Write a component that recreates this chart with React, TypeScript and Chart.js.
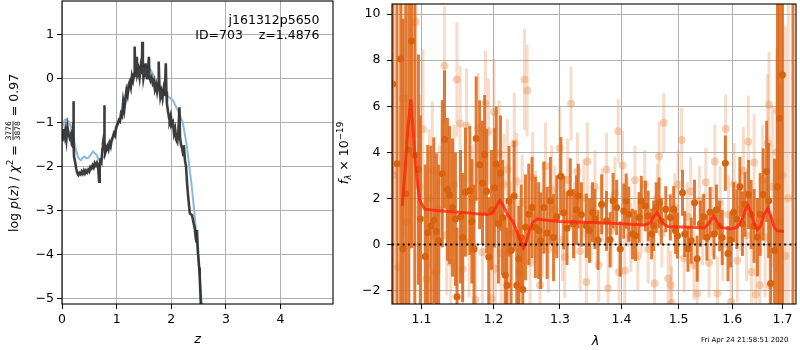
import React, { useEffect, useRef } from 'react';
import { Chart, registerables } from 'chart.js';
Chart.register(...registerables);

const FONT = '"DejaVu Sans", sans-serif';

// ---------- left panel: log p(z) ----------
const zTicks = [0, 1, 2, 3, 4];
const lpTicks = [-5, -4, -3, -2, -1, 0, 1];

const zBlue = [0.00, 0.02, 0.05, 0.09, 0.13, 0.17, 0.20, 0.23, 0.26, 0.29, 0.32, 0.35, 0.38, 0.41, 0.45, 0.48, 0.52, 0.57, 0.60, 0.63, 0.66, 0.69, 0.72, 0.75, 0.78, 0.81, 0.84, 0.88, 0.93, 0.97, 1.02, 1.07, 1.12, 1.16, 1.21, 1.26, 1.30, 1.35, 1.39, 1.44, 1.48, 1.53, 1.57, 1.62, 1.66, 1.72, 1.79, 1.85, 1.91, 1.97, 2.03, 2.10, 2.16, 2.21, 2.28, 2.33, 2.37, 2.42, 2.49, 2.55, 2.60];
const lpBlue = [-1.15, -1.05, -0.95, -0.93, -1.00, -1.12, -1.30, -1.48, -1.65, -1.78, -1.84, -1.86, -1.80, -1.78, -1.82, -1.81, -1.75, -1.66, -1.70, -1.74, -1.82, -1.86, -1.84, -1.80, -1.76, -1.62, -1.48, -1.42, -1.40, -1.25, -1.06, -0.93, -0.80, -0.58, -0.34, -0.12, 0.04, 0.16, 0.23, 0.27, 0.28, 0.27, 0.26, 0.20, 0.11, -0.05, -0.20, -0.30, -0.38, -0.44, -0.50, -0.68, -0.85, -1.00, -1.50, -2.00, -2.40, -3.00, -4.00, -5.00, -5.70];

const zDark = [0.00, 0.01, 0.02, 0.03, 0.05, 0.06, 0.08, 0.10, 0.12, 0.14, 0.16, 0.18, 0.20, 0.205, 0.21, 0.215, 0.22, 0.24, 0.26, 0.28, 0.30, 0.32, 0.34, 0.36, 0.38, 0.40, 0.42, 0.44, 0.46, 0.48, 0.50, 0.52, 0.54, 0.56, 0.58, 0.60, 0.62, 0.64, 0.66, 0.68, 0.69, 0.70, 0.72, 0.74, 0.75, 0.77, 0.775, 0.78, 0.79, 0.81, 0.83, 0.85, 0.87, 0.89, 0.91, 0.93, 0.95, 0.97, 0.99, 1.02, 1.04, 1.06, 1.08, 1.10, 1.12, 1.14, 1.16, 1.18, 1.20, 1.22, 1.24, 1.26, 1.28, 1.30, 1.32, 1.33, 1.34, 1.36, 1.37, 1.38, 1.40, 1.42, 1.44, 1.46, 1.47, 1.48, 1.49, 1.51, 1.53, 1.54, 1.56, 1.57, 1.59, 1.60, 1.62, 1.64, 1.66, 1.68, 1.70, 1.72, 1.74, 1.76, 1.77, 1.78, 1.80, 1.82, 1.84, 1.86, 1.88, 1.90, 1.91, 1.92, 1.94, 1.96, 1.97, 1.99, 2.01, 2.03, 2.05, 2.07, 2.09, 2.11, 2.13, 2.15, 2.16, 2.18, 2.20, 2.22, 2.23, 2.25, 2.27, 2.29, 2.31, 2.34, 2.38, 2.41, 2.43, 2.45, 2.46, 2.47, 2.48, 2.49, 2.51, 2.52, 2.54, 2.55];
const lpDark = [-1.40, -1.25, -1.33, -1.15, -1.30, -1.20, -1.40, -1.10, -1.25, -1.35, -1.28, -1.50, -1.55, -1.00, -0.52, -1.50, -1.78, -1.90, -2.05, -2.16, -2.20, -2.15, -2.18, -2.12, -2.17, -2.10, -2.16, -2.10, -2.14, -2.08, -2.12, -2.02, -2.05, -1.98, -2.03, -1.93, -1.98, -1.92, -2.00, -2.35, -1.95, -1.88, -1.92, -1.60, -1.48, -1.30, -0.61, -1.40, -1.70, -1.62, -1.55, -1.62, -1.48, -1.55, -1.40, -1.33, -1.25, -1.30, -1.12, -1.02, -0.95, -0.98, -0.80, -0.85, -0.53, -0.70, -0.45, -0.27, -0.38, -0.15, -0.08, -0.20, 0.05, -0.05, 0.10, 0.72, 0.15, 0.05, 0.49, 0.10, 0.20, 0.02, 0.25, 0.10, 0.83, 0.20, 0.00, 0.15, 0.34, 0.05, 0.00, 0.12, 0.49, 0.05, -0.05, 0.02, -0.11, -0.05, -0.25, -0.15, -0.30, -0.12, 0.38, -0.10, -0.42, -0.30, -0.45, -0.25, -0.40, 0.34, -0.30, -0.57, -0.75, -0.90, -0.95, -0.85, -1.05, -1.00, -1.25, -1.15, -1.40, -1.45, -1.20, -0.66, -1.35, -1.52, -1.60, -1.75, -1.52, -1.86, -2.00, -2.40, -2.70, -3.07, -3.11, -3.30, -3.41, -3.65, -3.71, -3.45, -3.75, -3.98, -4.30, -4.47, -5.11, -5.50];

// ---------- right panel: spectrum ----------
const lamTicks = [1.1, 1.2, 1.3, 1.4, 1.5, 1.6, 1.7];
const fluxTicks = [-2, 0, 2, 4, 6, 8, 10];

const lamDark = [1.0625, 1.068, 1.0729, 1.0758, 1.0795, 1.0834, 1.0869, 1.0912, 1.0960, 1.0985, 1.1050, 1.1083, 1.1125, 1.1165, 1.1200, 1.1230, 1.1280, 1.1310, 1.1350, 1.1380, 1.1420, 1.1460, 1.1482, 1.1530, 1.1560, 1.1600, 1.1660, 1.1690, 1.1720, 1.1750, 1.1800, 1.1840, 1.1870, 1.1900, 1.1930, 1.1970, 1.2012, 1.2038, 1.2070, 1.2100, 1.2130, 1.2170, 1.2195, 1.2225, 1.2255, 1.2300, 1.2340, 1.2370, 1.2405, 1.2430, 1.2470, 1.2520, 1.2570, 1.2620, 1.2670, 1.2700, 1.2750, 1.2800, 1.2850, 1.2900, 1.2950, 1.3014, 1.3060, 1.3110, 1.3163, 1.3215, 1.3260, 1.3290, 1.3340, 1.3420, 1.3470, 1.3520, 1.3560, 1.3610, 1.3670, 1.3750, 1.3810, 1.3860, 1.3920, 1.3980, 1.4040, 1.4080, 1.4125, 1.4190, 1.4240, 1.4300, 1.4340, 1.4410, 1.4460, 1.4520, 1.4555, 1.4600, 1.4650, 1.4690, 1.4770, 1.4850, 1.4910, 1.4945, 1.4980, 1.5070, 1.5110, 1.5170, 1.5230, 1.5290, 1.5340, 1.5400, 1.5460, 1.5520, 1.5580, 1.5655, 1.5700, 1.5760, 1.5810, 1.5870, 1.5920, 1.5970, 1.6030, 1.6090, 1.6150, 1.6200, 1.6250, 1.6320, 1.6370, 1.6430, 1.6496, 1.6550, 1.6610, 1.6680, 1.6720, 1.6760, 1.6840, 1.6900, 1.6940, 1.7000, 1.7218];
const fluxDark = [6.97, 3.5, 8.05, -0.2, 2.2, 4.1, 8.84, 3.87, 3.25, 1.1, -0.53, 0.52, 0.79, 1.05, 0.56, 0.16, 3.07, 4.56, 2.39, 2.14, 1.6, 1.1, -2.27, 1.2, 0.3, 2.27, 2.34, 1.0, -0.2, 4.6, 3.46, 2.67, 3.89, 2.31, -0.55, 1.5, 2.46, 3.49, 0.9, 3.1, 1.17, -1.34, -1.77, 1.88, -0.27, 2.1, -1.77, -0.62, 0.3, -1.96, 0.74, 1.31, 1.6, 0.74, 0.6, 0.16, 1.6, 0.5, 1.9, 0.3, 1.2, 2.96, 1.38, 0.7, 2.24, 0.9, 1.5, 2.1, 1.3, 0.81, 0.6, 1.4, 1.1, 0.19, 1.74, 1.02, 0.2, 1.9, 1.6, -0.2, 1.45, 1.88, 1.31, 0.45, 0.38, 1.17, 1.88, 1.67, 1.24, 0.45, 0.81, 1.6, 1.81, 1.02, 1.53, 1.17, 1.53, 0.59, 0.38, 2.24, 0.45, -0.19, 0.16, 1.81, -0.62, 0.9, 1.2, 0.3, 1.4, 0.45, 1.5, 0.8, 0.3, 3.53, -0.4, 0.2, 1.4, 1.1, 2.5, 0.9, 1.74, 2.17, 1.3, 0.8, 0.31, 1.3, 2.17, 3.17, 1.9, -1.7, -0.27, 2.5, 5.47, 7.36, 14.0];
const errDark = [12, 13, 12, 10, 9, 8, 9, 7, 5, 4.5, 4, 3.8, 3.5, 3.6, 3.4, 3.3, 3.2, 3.0, 3.1, 3.0, 3.0, 2.9, 3.0, 2.9, 2.8, 2.8, 2.8, 2.7, 2.8, 2.7, 2.8, 2.7, 2.6, 2.7, 2.6, 2.6, 2.6, 2.5, 2.6, 2.5, 2.5, 2.6, 2.5, 2.4, 2.4, 2.4, 2.4, 2.3, 2.3, 2.3, 2.3, 2.2, 2.2, 2.2, 2.1, 2.1, 2.0, 2.0, 1.9, 1.9, 1.8, 1.7, 1.6, 1.6, 1.5, 1.5, 1.5, 1.4, 1.4, 1.4, 1.4, 1.3, 1.3, 1.3, 1.3, 1.3, 1.2, 1.2, 1.2, 1.2, 1.2, 1.2, 1.2, 1.1, 1.1, 1.1, 1.1, 1.1, 1.1, 1.1, 1.1, 1.1, 1.1, 1.0, 1.0, 1.0, 1.0, 1.0, 1.0, 1.0, 1.0, 1.0, 1.0, 1.0, 1.0, 1.0, 1.0, 1.0, 1.1, 1.1, 1.1, 1.1, 1.2, 1.2, 1.2, 1.2, 1.3, 1.3, 1.3, 1.4, 1.4, 1.5, 1.5, 1.6, 1.7, 1.8, 2.0, 2.2, 2.5, 3.0, 4.0, 9, 12, 14, 18];

const lamLight = [1.0635, 1.0700, 1.0760, 1.0810, 1.0865, 1.0925, 1.0975, 1.1020, 1.1065, 1.1105, 1.1145, 1.1190, 1.1240, 1.1275, 1.1309, 1.1340, 1.1395, 1.1440, 1.1480, 1.1525, 1.1561, 1.1615, 1.1650, 1.1700, 1.1740, 1.1780, 1.1840, 1.1883, 1.1925, 1.1970, 1.2007, 1.2024, 1.2080, 1.2110, 1.2150, 1.2200, 1.2250, 1.2303, 1.2340, 1.2380, 1.2420, 1.2455, 1.2495, 1.2540, 1.2580, 1.2630, 1.2690, 1.2730, 1.2775, 1.2820, 1.2870, 1.2920, 1.2996, 1.3040, 1.3075, 1.3120, 1.3175, 1.3230, 1.3275, 1.3320, 1.3380, 1.3420, 1.3436, 1.3500, 1.3560, 1.3620, 1.3680, 1.3751, 1.3776, 1.3830, 1.3890, 1.3946, 1.3960, 1.4019, 1.4055, 1.4100, 1.4160, 1.4230, 1.4280, 1.4340, 1.4400, 1.4460, 1.4570, 1.4620, 1.4650, 1.4700, 1.4733, 1.4810, 1.4857, 1.4875, 1.4930, 1.4990, 1.5054, 1.5100, 1.5160, 1.5220, 1.5280, 1.5340, 1.5380, 1.5440, 1.5500, 1.5560, 1.5620, 1.5670, 1.5719, 1.5770, 1.5820, 1.5876, 1.5930, 1.5980, 1.6040, 1.6100, 1.6160, 1.6220, 1.6280, 1.6314, 1.6380, 1.6430, 1.6465, 1.6545, 1.6600, 1.6650, 1.6700, 1.6727, 1.6745, 1.6800, 1.6880, 1.6900, 1.6950, 1.7000, 1.7060, 1.7120];
const fluxLight = [3.0, -1.0, 6.33, 1.0, 4.8, 9.67, 2.5, 5.0, -1.5, 2.0, 3.2, -1.2, 1.5, 2.7, 7.76, 0.4, -0.8, 2.6, 7.16, 5.25, -1.08, 5.15, 0.1, 1.9, -2.4, 5.04, -0.34, 6.11, 4.9, -2.35, 5.75, -1.05, 3.96, -0.4, 2.6, 3.25, 0.5, 4.39, 2.74, -1.2, 1.8, 7.16, 6.69, -0.8, 2.9, 1.2, -1.77, 0.5, 3.39, -0.2, 2.4, 1.5, 4.18, 0.2, -0.55, 2.8, 6.11, 1.0, 3.17, -0.3, 2.0, -1.63, 3.6, 0.9, 2.5, -0.9, 1.7, 3.25, -1.91, 0.6, 2.2, 4.92, -1.2, 3.43, -1.13, 1.4, 0.3, 2.79, -0.5, 1.1, 2.6, -0.2, -1.7, 2.0, 3.82, 0.5, 5.28, -1.48, -1.77, -2.55, 1.6, 2.6, 4.54, -0.6, 1.2, 2.3, -0.9, -2.13, 1.9, 0.6, 2.7, -0.8, 1.0, 3.6, -2.13, 1.8, 0.0, 5.01, 1.3, -2.49, 2.6, -0.7, 1.5, 3.2, 0.4, 4.46, -1.2, 3.56, -2.17, -1.77, 2.8, 0.3, 4.39, 6.07, -1.77, 2.5, 4.0, 5.8, 1.0, 3.0, -0.5, 2.0];
const errLight = [8, 7, 6, 5.5, 5, 5, 4, 3.5, 3.2, 3, 3, 2.8, 2.8, 2.7, 2.6, 2.6, 2.6, 2.6, 2.5, 2.5, 2.5, 2.5, 2.4, 2.4, 2.4, 2.4, 2.4, 2.3, 2.3, 2.3, 2.3, 2.3, 2.3, 2.2, 2.2, 2.2, 2.2, 2.2, 2.1, 2.1, 2.1, 2.2, 2.0, 2.0, 2.0, 2.0, 2.0, 1.9, 1.9, 1.9, 1.9, 1.9, 1.8, 1.8, 1.8, 1.8, 1.6, 1.7, 1.7, 1.7, 1.7, 1.7, 1.7, 1.7, 1.6, 1.6, 1.6, 1.6, 1.6, 1.6, 1.6, 1.4, 1.6, 1.5, 1.5, 1.5, 1.5, 1.5, 1.5, 1.5, 1.5, 1.5, 1.5, 1.5, 1.5, 1.5, 1.3, 1.5, 1.5, 1.6, 1.5, 1.5, 1.4, 1.5, 1.5, 1.5, 1.5, 1.5, 1.5, 1.5, 1.5, 1.5, 1.5, 1.6, 1.6, 1.6, 1.6, 1.5, 1.7, 1.7, 1.8, 1.8, 1.8, 1.9, 2.0, 2.0, 2.0, 2.1, 2.2, 2.3, 2.4, 2.6, 3.0, 2.3, 3.0, 3.5, 4.5, 7.0, 6, 8, 10, 12];

const lamModel = [1.0748, 1.078, 1.082, 1.086, 1.089, 1.0912, 1.095, 1.0978, 1.1044, 1.12, 1.14, 1.16, 1.175, 1.19, 1.198, 1.203, 1.209, 1.214, 1.22, 1.228, 1.235, 1.24, 1.2437, 1.248, 1.253, 1.258, 1.2648, 1.28, 1.30, 1.35, 1.40, 1.44, 1.45, 1.455, 1.4614, 1.467, 1.472, 1.4808, 1.52, 1.547, 1.555, 1.5648, 1.572, 1.5786, 1.5976, 1.61, 1.62, 1.626, 1.6311, 1.637, 1.643, 1.6494, 1.656, 1.663, 1.6707, 1.677, 1.683, 1.6895, 1.7032];
const fluxModel = [1.67, 3.0, 5.0, 6.3, 5.0, 3.9, 2.6, 1.9, 1.53, 1.47, 1.42, 1.38, 1.33, 1.30, 1.35, 1.6, 1.91, 1.7, 1.3, 1.0, 0.5, 0.1, -0.15, 0.1, 0.6, 0.95, 1.1, 1.05, 1.0, 0.95, 0.9, 0.84, 0.95, 1.2, 1.38, 1.15, 0.9, 0.78, 0.74, 0.71, 0.9, 1.24, 0.95, 0.74, 0.67, 0.75, 1.1, 1.5, 1.67, 1.4, 0.9, 0.64, 0.8, 1.3, 1.57, 1.2, 0.75, 0.59, 0.56];

const zeroLevel = 0;

const pts = (xs: number[], ys: number[]) => xs.map((x, i) => ({ x, y: ys[i] }));
const minusFmt = (v: number) => (v < 0 ? '\u2212' + Math.abs(v) : String(v));

const errorBarPlugin = {
  id: 'errorBars',
  beforeDatasetDraw(chart: any, args: any) {
    const ds = chart.data.datasets[args.index];
    if (!ds.errors) return;
    const { ctx, chartArea, scales } = chart;
    ctx.save();
    ctx.beginPath();
    ctx.rect(chartArea.left, chartArea.top, chartArea.right - chartArea.left, chartArea.bottom - chartArea.top);
    ctx.clip();
    ctx.strokeStyle = ds.errorColor;
    ctx.lineWidth = ds.errorWidth;
    ctx.lineCap = 'butt';
    ds.data.forEach((p: any, i: number) => {
      const x = scales.x.getPixelForValue(p.x);
      const y1 = scales.y.getPixelForValue(p.y - ds.errors[i]);
      const y2 = scales.y.getPixelForValue(p.y + ds.errors[i]);
      ctx.beginPath();
      ctx.moveTo(x, y1);
      ctx.lineTo(x, y2);
      ctx.stroke();
    });
    ctx.restore();
  },
};

type Seg = { t?: string; font: string; dy?: number; frac?: [string, string] };

function drawRotated(ctx: CanvasRenderingContext2D, bx: number, cy: number, segs: Seg[]) {
  ctx.save();
  ctx.translate(bx, cy);
  ctx.rotate(-Math.PI / 2);
  ctx.fillStyle = '#000';
  ctx.textBaseline = 'alphabetic';
  ctx.textAlign = 'left';
  const widths = segs.map((s) => {
    ctx.font = s.font;
    if (s.frac) return Math.max(ctx.measureText(s.frac[0]).width, ctx.measureText(s.frac[1]).width) + 2;
    return ctx.measureText(s.t || '').width;
  });
  const total = widths.reduce((a, b) => a + b, 0);
  let x = -total / 2;
  segs.forEach((s, i) => {
    ctx.font = s.font;
    if (s.frac) {
      const w = widths[i];
      ctx.textAlign = 'center';
      ctx.fillText(s.frac[0], x + w / 2, -6.3);
      ctx.fillText(s.frac[1], x + w / 2, 2.3);
      ctx.textAlign = 'left';
      ctx.fillRect(x + 1, -4.9, w - 2, 0.8);
    } else {
      ctx.fillText(s.t || '', x, s.dy || 0);
    }
    x += widths[i];
  });
  ctx.restore();
}

const frameAndTextPlugin = (drawText: (ctx: CanvasRenderingContext2D, chart: any) => void) => ({
  id: 'frameText',
  afterDraw(chart: any) {
    const { ctx, chartArea } = chart;
    ctx.save();
    ctx.strokeStyle = '#000';
    ctx.lineWidth = 1.1;
    ctx.strokeRect(chartArea.left, chartArea.top, chartArea.right - chartArea.left, chartArea.bottom - chartArea.top);
    drawText(ctx, chart);
    ctx.restore();
  },
});

function noPad(s: any) {
  s.paddingTop = 0;
  s.paddingBottom = 0;
  s.paddingLeft = 0;
  s.paddingRight = 0;
}

function axisOpts(min: number, max: number, ticks: number[], fmt: (v: number) => string, fit: (s: any) => void, pad: number, type = 'linear') {
  return {
    type,
    min,
    max,
    bounds: 'data',
    afterBuildTicks: (s: any) => {
      s.ticks = ticks.map((v) => ({ value: v }));
    },
    afterFit: (s: any) => {
      fit(s);
      noPad(s);
    },
    grid: { color: '#b0b0b0', lineWidth: 1, tickColor: '#000', tickLength: 5, tickWidth: 1, drawOnChartArea: true },
    border: { display: false },
    title: { display: false },
    ticks: {
      color: '#000',
      font: { family: FONT, size: 12.5 },
      padding: pad,
      maxRotation: 0,
      autoSkip: false,
      callback: (v: any) => fmt(Number(v)),
    },
  };
}

const F = 12.5;
const nf = (s = F) => `${s}px ${FONT}`;
const itf = (s = F) => `italic ${s}px ${FONT}`;

const LEFT_WIDTH = 340;
const RIGHT_OFFSET = 330;

function leftConfig(): any {
  return {
    type: 'scatter',
    data: {
      datasets: [
        { data: pts(zBlue, lpBlue), showLine: true, borderColor: '#8cb8da', borderWidth: 2, pointRadius: 0, order: 2, clip: 0 },
        { data: pts(zDark, lpDark), showLine: true, borderColor: 'rgba(40,40,40,0.9)', borderWidth: 2.6, pointRadius: 0, order: 1, clip: 0 },
      ],
    },
    options: {
      responsive: false,
      animation: false,
      devicePixelRatio: 1,
      events: [],
      layout: { padding: { left: 0, right: LEFT_WIDTH - 333, top: 1, bottom: 0 } },
      plugins: { legend: { display: false }, tooltip: { enabled: false } },
      scales: {
        x: axisOpts(0, 4.96, zTicks, (v) => String(v), (s: any) => { s.height = 46; }, 3.5),
        y: axisOpts(-5.13, 1.757, lpTicks, minusFmt, (s: any) => { s.width = 62; }, 3),
      },
    },
    plugins: [
      frameAndTextPlugin((ctx) => {
        ctx.fillStyle = '#000';
        ctx.font = nf();
        ctx.textAlign = 'right';
        ctx.textBaseline = 'alphabetic';
        ctx.fillText('j161312p5650', 319.5, 23.5);
        ctx.fillText('ID=703    z=1.4876', 319.5, 38.5);
        ctx.font = itf(13);
        ctx.textAlign = 'center';
        ctx.fillText('z', 197.7, 343);
        drawRotated(ctx, 17.5, 153, [
          { t: 'log ', font: nf() },
          { t: 'p', font: itf() },
          { t: '(', font: nf() },
          { t: 'z', font: itf() },
          { t: ')', font: nf() },
          { t: ' / ', font: nf() },
          { t: '\u03c7', font: itf() },
          { t: '2', font: nf(8.8), dy: -5 },
          { t: ' = ', font: nf() },
          { frac: ['3776', '3878'], font: nf(7.5) },
          { t: ' = 0.97', font: nf() },
        ]);
      }),
    ],
  };
}

function rightConfig(): any {
  const lamMin = 1.0616;
  const lamMax = 1.7281;
  return {
    type: 'scatter',
    data: {
      datasets: [
        {
          data: pts(lamLight, fluxLight), errors: errLight, errorColor: 'rgba(232,140,75,0.3)', errorWidth: 3,
          pointRadius: 4, pointBackgroundColor: 'rgba(232,140,75,0.4)', pointBorderWidth: 0, order: 5, clip: 0,
        },
        {
          data: pts(lamDark, fluxDark), errors: errDark, errorColor: 'rgba(222,105,25,0.88)', errorWidth: 3,
          pointRadius: 3.5, pointBackgroundColor: '#d9620f', pointBorderWidth: 0, order: 4, clip: 0,
        },
        {
          data: pts(lamModel, fluxModel), showLine: true, borderColor: 'rgba(255,35,10,0.78)', borderWidth: 3,
          pointRadius: 0, order: 2, clip: 0,
        },
        {
          data: [{ x: lamMin, y: zeroLevel }, { x: lamMax, y: zeroLevel }], showLine: true, borderColor: '#000',
          borderWidth: 2, borderDash: [2, 3.3], pointRadius: 0, order: 1, clip: 0,
        },
      ],
    },
    options: {
      responsive: false,
      animation: false,
      devicePixelRatio: 1,
      events: [],
      layout: { padding: { left: 0, right: 1, top: 1, bottom: 0 } },
      plugins: { legend: { display: false }, tooltip: { enabled: false } },
      scales: {
        x: axisOpts(lamMin, lamMax, lamTicks, (v) => v.toFixed(1), (s: any) => { s.height = 46; }, 3.5, 'logarithmic'),
        y: axisOpts(-2.589, 10.443, fluxTicks, minusFmt, (s: any) => { s.width = 392 - RIGHT_OFFSET; }, 6.5),
      },
    },
    plugins: [
      errorBarPlugin,
      frameAndTextPlugin((ctx) => {
        ctx.fillStyle = '#000';
        ctx.font = itf(13);
        ctx.textAlign = 'center';
        ctx.textBaseline = 'alphabetic';
        ctx.fillText('\u03bb', 595.5 - RIGHT_OFFSET, 344.5);
        ctx.font = nf(7);
        ctx.textAlign = 'left';
        ctx.fillText('Fri Apr 24 21:58:51 2020', 701 - RIGHT_OFFSET, 342);
        drawRotated(ctx, 348 - RIGHT_OFFSET, 153, [
          { t: 'f', font: itf() },
          { t: '\u03bb', font: itf(8.8), dy: 2.5 },
          { t: ' \u00d7 10', font: nf() },
          { t: '\u221219', font: nf(8.8), dy: -5 },
        ]);
      }),
    ],
  };
}

export default function App() {
  const leftRef = useRef<HTMLCanvasElement>(null);
  const rightRef = useRef<HTMLCanvasElement>(null);
  useEffect(() => {
    const c1 = new Chart(leftRef.current as HTMLCanvasElement, leftConfig());
    const c2 = new Chart(rightRef.current as HTMLCanvasElement, rightConfig());
    return () => {
      c1.destroy();
      c2.destroy();
    };
  }, []);
  return (
    <div style={{ position: 'fixed', left: 0, top: 0, width: 800, height: 350, background: '#fff' }}>
      <canvas ref={leftRef} width={LEFT_WIDTH} height={350} style={{ position: 'absolute', left: 0, top: 0, width: LEFT_WIDTH, height: 350 }} />
      <canvas ref={rightRef} width={800 - RIGHT_OFFSET} height={350} style={{ position: 'absolute', left: RIGHT_OFFSET, top: 0, width: 800 - RIGHT_OFFSET, height: 350 }} />
    </div>
  );
}
